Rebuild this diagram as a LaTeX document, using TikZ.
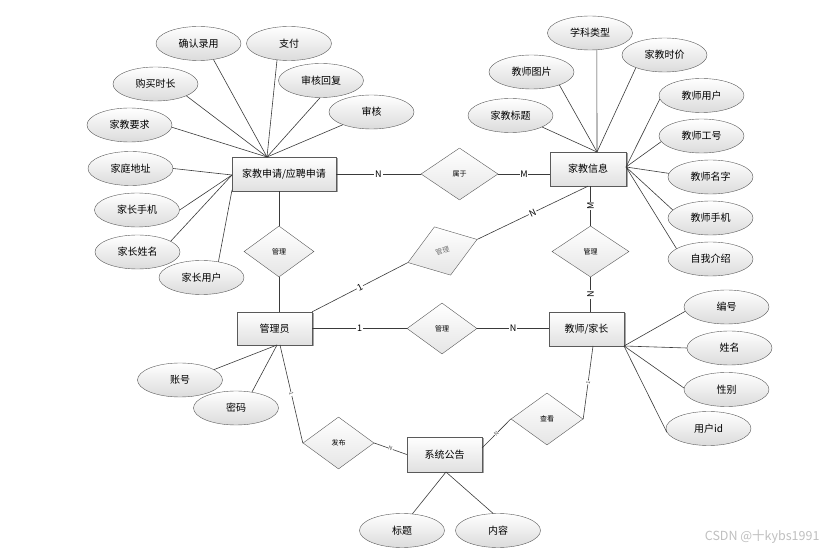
\documentclass[tikz,border=0pt]{standalone}
\usepackage{fontspec}
\setmainfont{Noto Sans CJK SC}
\usetikzlibrary{shapes.geometric,shadows}
\definecolor{edgec}{HTML}{3A3A3A}
\definecolor{bordc}{HTML}{5A5A5A}
\tikzset{
 attr/.style={ellipse, draw=bordc, top color=white, bottom color=black!14, minimum width=85pt, minimum height=34pt, inner sep=0pt, font=\fontsize{10}{12}\selectfont},
 ent/.style={rectangle, draw=bordc, top color=white, bottom color=black!12, minimum height=34pt, inner sep=0pt, font=\fontsize{10}{12}\selectfont, drop shadow={shadow xshift=1.5pt, shadow yshift=-1.5pt, opacity=0.35, fill=black}},
 rel/.style={diamond, draw=bordc, top color=white, bottom color=black!10, minimum width=72pt, minimum height=52pt, inner sep=0pt, font=\fontsize{7}{8}\selectfont},
 conn/.style={draw=edgec, line width=0.6pt},
 card/.style={fill=white, inner sep=0.8pt, font=\fontsize{9}{10}\selectfont},
 tcard/.style={fill=white, inner sep=0.3pt, font=\fontsize{5.5}{6}\selectfont, text=black!70},
}
\begin{document}
\begin{tikzpicture}[x=1pt,y=-1pt]
\useasboundingbox (0,0) rectangle (839,553);
% entities
\node[ent, minimum width=104pt] (jj) at (284,174) {家教申请/应聘申请};
\node[ent, minimum width=76pt] (xx) at (588,169) {家教信息};
\node[ent, minimum width=75pt, minimum height=33pt] (gly) at (274.5,328.5) {管理员};
\node[ent, minimum width=75pt] (js) at (586.5,329) {教师/家长};
\node[ent, minimum width=75pt, minimum height=35pt] (gg) at (444.5,454.5) {系统公告};
% relations
\node[rel, minimum width=77pt] (sy) at (459.5,174) {属于};
\node[rel, minimum width=70pt, minimum height=51pt] (gl1) at (279,251.5) {管理};
\node[rel, minimum width=70pt, minimum height=51pt] (gl2) at (442,328.5) {管理};
\node[rel, minimum width=77pt, minimum height=51pt] (gl3) at (590.5,251.5) {管理};
\node[rel, minimum width=73pt, minimum height=51pt, rotate=18.5, text=black!55] (gl4) at (442.5,251) {管理};
\node[rel, minimum width=71pt] (fb) at (338.5,443) {发布};
\node[rel] (ck) at (547,419) {查看};
% attributes of 家教申请
\node[attr] (a1) at (198.5,43.5) {确认录用};
\node[attr] (a2) at (289,43.5) {支付};
\node[attr] (a3) at (155.5,84) {购买时长};
\node[attr] (a4) at (321,80.5) {审核回复};
\node[attr] (a5) at (129.5,125) {家教要求};
\node[attr] (a6) at (371.5,112) {审核};
\node[attr] (a7) at (130.5,168.5) {家庭地址};
\node[attr] (a8) at (137,210) {家长手机};
\node[attr] (a9) at (137.5,252) {家长姓名};
\node[attr] (a10) at (201.5,277.5) {家长用户};
% attributes of 家教信息
\node[attr] (b1) at (590,33) {学科类型};
\node[attr] (b2) at (664.5,55) {家教时价};
\node[attr] (b3) at (531.5,72) {教师图片};
\node[attr] (b4) at (510.5,115.5) {家教标题};
\node[attr] (b5) at (701.5,95.5) {教师用户};
\node[attr] (b6) at (701.5,136) {教师工号};
\node[attr] (b7) at (710.5,177) {教师名字};
\node[attr] (b8) at (710.5,218) {教师手机};
\node[attr] (b9) at (710.5,259) {自我介绍};
% attributes of 管理员, 系统公告
\node[attr] (c1) at (180,380) {账号};
\node[attr] (c2) at (236,408) {密码};
\node[attr] (d1) at (402,530.5) {标题};
\node[attr] (d2) at (498,530.5) {内容};
% attributes of 教师/家长
\node[attr] (e1) at (726.5,307) {编号};
\node[attr] (e2) at (729.5,348) {姓名};
\node[attr] (e3) at (726.5,389.5) {性别};
\node[attr] (e4) at (708.5,428.5) {用户id};
% convergence points
\coordinate (jjT) at (267,157);
\coordinate (jjL) at (232,175);
\coordinate (jjB) at (232,190);
\coordinate (xxT) at (597,152);
\coordinate (xxR) at (626,167);
\coordinate (jsC) at (624,346);
\coordinate (jsB) at (593,346);
\coordinate (glyB) at (277,345);
\coordinate (glyB2) at (280,345);
\coordinate (ggB) at (446,472);
\coordinate (ggR) at (482,448);
% attribute connectors
\draw[conn] (a1.313) -- (jjT);
\draw[conn] (a2.234) -- (jjT);
\draw[conn] (a3.339) -- (jjT);
\draw[conn] (a4.267) -- (jjT);
\draw[conn] (a5.357) -- (jjT);
\draw[conn] (a6.204) -- (jjT);
\draw[conn] (a7.east) -- (jjL);
\draw[conn] (a8.east) -- (jjL);
\draw[conn] (a9.18) -- (jjL);
\draw[conn] (a10.43) -- (jjB);
\draw[conn] (b1.292) -- (xxT);
\draw[conn] (b2.204) -- (xxT);
\draw[conn] (b3.335) -- (xxT);
\draw[conn] (b4.340) -- (xxT);
\draw[conn] (b5.185) -- (xxR);
\draw[conn] (b6.188) -- (xxR);
\draw[conn] (b7.175) -- (xxR);
\draw[conn] (b8.168) -- (xxR);
\draw[conn] (b9.163) -- (xxR);
\draw[conn] (c1.17) -- (glyB);
\draw[conn] (c2.45) -- (glyB);
\draw[conn] (d1.58) -- (ggB);
\draw[conn] (d2.106) -- (ggB);
\draw[conn] (e1.186) -- (jsC);
\draw[conn] (e2.west) -- (jsC);
\draw[conn] (e3.178) -- (jsC);
\draw[conn] (e4.185) -- (jsC);
% relationship connectors
\draw[conn] (jj.east) -- node[card]{N} (sy.west);
\draw[conn] (sy.east) -- node[card]{M} (sy.east -| xx.west);
\draw[conn] (gl1.north) -- (gl1.north |- jj.south);
\draw[conn] (gl1.south) -- (gl1.south |- gly.north);
\draw[conn] (gly.north east) -- node[card, sloped]{1} (gl4.west);
\draw[conn] (gl4.east) -- node[card, sloped]{N} (xx.south);
\draw[conn] (gly.east) -- node[card]{1} (gl2.west);
\draw[conn] (gl2.east) -- node[card]{N} (gl2.east -| js.west);
\draw[conn] (gl3.north |- xx.south) -- node[card, rotate=90]{M} (gl3.north);
\draw[conn] (gl3.south) -- node[card, rotate=90]{N} (gl3.south |- js.north);
\draw[conn] (glyB2) -- node[tcard, sloped]{1} (fb.west);
\draw[conn] (fb.east) -- node[tcard, sloped]{N} (gg.west);
\draw[conn] (ggR) -- node[tcard, sloped]{N} (ck.west);
\draw[conn] (ck.east) -- node[tcard, sloped]{1} (jsB);
% watermark
\node[text=black!25, font=\fontsize{12.5}{14}\selectfont, anchor=east] (wm) at (823,537) {CSDN @十kybs1991};
\end{tikzpicture}
\end{document}
